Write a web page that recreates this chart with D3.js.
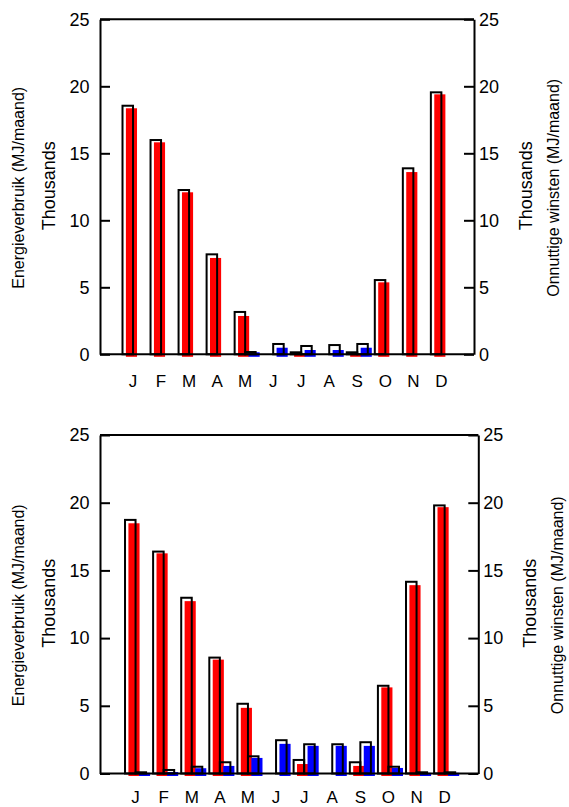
<!DOCTYPE html>
<html>
<head>
<meta charset="utf-8">
<script src="https://cdn.jsdelivr.net/npm/d3@7"></script>
<style>
  html, body { margin: 0; padding: 0; background: #fff; }
  svg { display: block; font-family: "Liberation Sans", Arial, sans-serif; }
</style>
</head>
<body>
<svg id="chart" width="569" height="807"></svg>
<script>
// ---------- DATA ----------
const monthLabels = ["J", "F", "M", "A", "M", "J", "J", "A", "S", "O", "N", "D"];
const tickValues = [0, 5000, 10000, 15000, 20000, 25000];
const leftTitle = "Energieverbruik (MJ/maand)";
const rightTitle = "Onnuttige winsten (MJ/maand)";
const unitLabel = "Thousands";

// Chart 1 (top)
const energyOutline1 = [18550, 15990, 12260, 7460, 3160, 0, 150, 0, 150, 5540, 13880, 19550];
const energyFill1    = [18360, 15820, 12090, 7190, 2860, 0, 50, 0, 50, 5370, 13600, 19400];
const gainsOutline1  = [0, 0, 0, 0, 170, 770, 620, 690, 770, 0, 0, 0];
const gainsFill1     = [0, 0, 0, 0, 150, 490, 320, 320, 490, 0, 0, 0];

// Chart 2 (bottom)
const energyOutline2 = [18730, 16390, 12980, 8560, 5150, 0, 1000, 0, 830, 6480, 14160, 19800];
const energyFill2    = [18480, 16260, 12730, 8410, 4850, 0, 700, 0, 560, 6360, 13910, 19670];
const gainsOutline2  = [90, 260, 500, 830, 1270, 2460, 2160, 2160, 2310, 500, 90, 90];
const gainsFill2     = [50, 110, 390, 560, 1150, 2190, 2040, 2040, 2040, 410, 50, 50];

// ---------- LAYOUT ----------
const charts = [
  { top: 19.3, bottom: 354.3, left: 100, right: 474, bandL: 119, bandR: 455.4, labelPad: 20.5,
    eo: energyOutline1, ef: energyFill1, go: gainsOutline1, gf: gainsFill1 },
  { top: 435, bottom: 773.5, left: 100, right: 478.3, bandL: 121.5, bandR: 458.7, labelPad: 17.5,
    eo: energyOutline2, ef: energyFill2, go: gainsOutline2, gf: gainsFill2 }
];

const svg = d3.select("#chart");
const fmt = d => d3.format("d")(d / 1000);

charts.forEach(cfg => {
  const g = svg.append("g");
  const y = d3.scaleLinear().domain([0, 25000]).range([cfg.bottom, cfg.top]);
  const y2 = d3.scaleLinear().domain([0, 25000]).range([cfg.bottom, cfg.top]);
  const x0 = d3.scaleBand().domain(d3.range(12)).range([cfg.bandL, cfg.bandR])
    .paddingInner(0.25).paddingOuter(0.125);
  const x1 = d3.scaleBand().domain(["energy", "gains"]).range([0, x0.bandwidth()]);
  const bw = x1.bandwidth();
  const shift = 3.4;

  const series = [
    { key: "energy", outline: cfg.eo, fill: cfg.ef, color: "#ff0000", scale: y },
    { key: "gains", outline: cfg.go, fill: cfg.gf, color: "#0000ff", scale: y2 }
  ];

  // filled bars (offset)
  series.forEach(s => {
    g.append("g").selectAll("rect")
      .data(s.fill.map((v, i) => ({ v, i })).filter(d => d.v > 0))
      .join("rect")
      .attr("x", d => x0(d.i) + x1(s.key) + shift)
      .attr("y", d => s.scale(d.v))
      .attr("width", bw + 0.6)
      .attr("height", d => s.scale(0) - s.scale(d.v) + 2.5)
      .attr("fill", s.color);
  });

  // outlined bars
  series.forEach(s => {
    g.append("g").selectAll("rect")
      .data(s.outline.map((v, i) => ({ v, i })).filter(d => d.v > 0))
      .join("rect")
      .attr("x", d => x0(d.i) + x1(s.key))
      .attr("y", d => s.scale(d.v))
      .attr("width", bw)
      .attr("height", d => s.scale(0) - s.scale(d.v))
      .attr("fill", "none")
      .attr("stroke", "#000")
      .attr("stroke-width", 2);
  });

  // axes
  const axisStyle = sel => {
    sel.selectAll("path, line").attr("stroke", "#000").attr("stroke-width", 2);
    sel.selectAll("text").attr("fill", "#000").attr("font-size", 18)
      .attr("font-family", "'Liberation Sans', Arial, sans-serif");
  };

  g.append("g").attr("transform", `translate(${cfg.left},0)`)
    .call(d3.axisLeft(y).tickValues(tickValues).tickFormat(fmt).tickSizeInner(-10).tickSizeOuter(0).tickPadding(10.5))
    .call(axisStyle);

  g.append("g").attr("transform", `translate(${cfg.right},0)`)
    .call(d3.axisRight(y2).tickValues(tickValues).tickFormat(fmt).tickSizeInner(-10).tickSizeOuter(0).tickPadding(5))
    .call(axisStyle);

  const xAxisScale = d3.scaleBand().domain(d3.range(12)).range([cfg.bandL, cfg.bandR]);
  g.append("g").attr("transform", `translate(0,${cfg.bottom})`)
    .call(d3.axisBottom(xAxisScale).tickFormat(i => monthLabels[i]).tickSize(0).tickPadding(cfg.labelPad))
    .call(sel => {
      sel.select(".domain").remove();
      sel.selectAll("text").attr("font-size", 17).attr("fill", "#000")
        .attr("font-family", "'Liberation Sans', Arial, sans-serif");
    });

  // frame lines: bottom axis line and top border
  g.append("line").attr("x1", cfg.left).attr("x2", cfg.right)
    .attr("y1", cfg.bottom).attr("y2", cfg.bottom)
    .attr("stroke", "#000").attr("stroke-width", 2);
  g.append("line").attr("x1", cfg.left).attr("x2", cfg.right)
    .attr("y1", cfg.top).attr("y2", cfg.top)
    .attr("stroke", "#000").attr("stroke-width", 2);

  // titles
  const cy = (cfg.top + cfg.bottom) / 2;
  g.append("text").attr("transform", `translate(23.5,${cy + 1}) rotate(-90)`)
    .attr("text-anchor", "middle").attr("font-size", 16).text(leftTitle);
  g.append("text").attr("transform", `translate(55,${cy - 1}) rotate(-90)`)
    .attr("text-anchor", "middle").attr("font-size", 18).text(unitLabel);
  g.append("text").attr("transform", `translate(${cfg.right + 58},${cy - 1}) rotate(-90)`)
    .attr("text-anchor", "middle").attr("font-size", 18).text(unitLabel);
  g.append("text").attr("transform", `translate(${cfg.right + 84.5},${cy + 1}) rotate(-90)`)
    .attr("text-anchor", "middle").attr("font-size", 16).text(rightTitle);
});
</script>
</body>
</html>
